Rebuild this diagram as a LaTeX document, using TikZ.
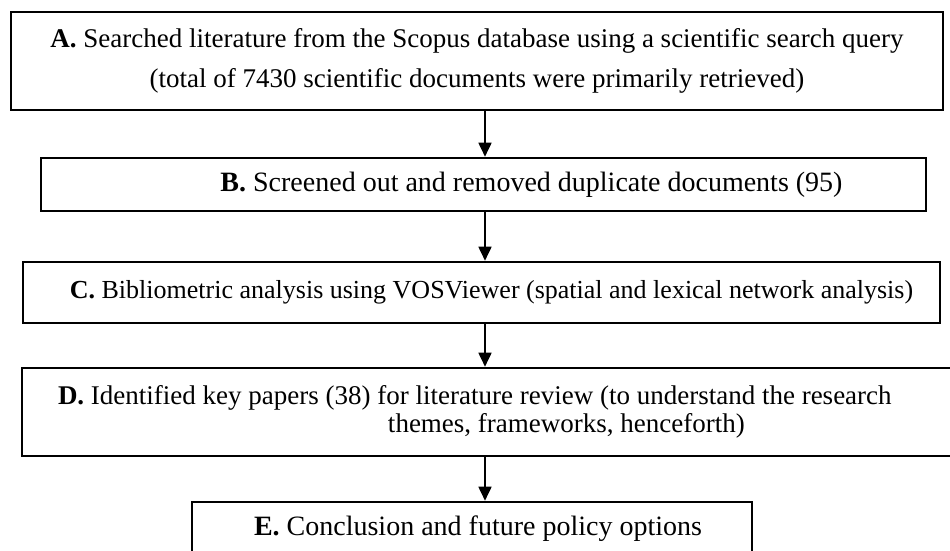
\documentclass[tikz,border=0pt]{standalone}
\usepackage{fontspec}
\setmainfont{Liberation Serif}
\usetikzlibrary{arrows.meta}

\begin{document}
\begin{tikzpicture}[x=0.5pt,y=0.5pt,
  bx/.style={draw, line width=1.3pt, fill=white, inner sep=0pt, font=\fontsize{13}{15}\selectfont},
  a/.style={-{Triangle[length=7pt,width=6.5pt]}, line width=0.9pt}]
\useasboundingbox (0,0) rectangle (950,551);
\node[bx, minimum width=466pt, minimum height=49pt, align=center,
  font=\fontsize{13.5}{20}\selectfont] (A) at (477,490)
  {\textbf{A.} Searched literature from the Scopus database using a scientific search query\\
   (total of 7430 scientific documents were primarily retrieved)};
\node[bx, minimum width=442.5pt, minimum height=26.5pt, font=\fontsize{14}{16}\selectfont] (B) at (483.5,366.5)
  {\hspace*{48pt}\textbf{B.} Screened out and removed duplicate documents (95)};
\node[bx, minimum width=458.5pt, minimum height=30.5pt] (C) at (481.5,258.5)
  {\hspace*{10pt}\textbf{C.} Bibliometric analysis using VOSViewer (spatial and lexical network analysis)};
\node[bx, minimum width=469pt, minimum height=44pt, text width=433pt, align=flush left,
  font=\fontsize{13.5}{14}\selectfont] (D) at (491,139)
  {\textbf{D.} Identified key papers (38) for literature review (to understand the research\\
   \hspace*{165pt}themes, frameworks, henceforth)};
\node[bx, minimum width=280pt, minimum height=26.5pt, font=\fontsize{14}{16}\selectfont] (E) at (472,22.5)
  {\hspace*{6pt}\textbf{E.} Conclusion and future policy options};
\coordinate (ax) at (485,0);
\foreach \u/\v in {A/B,B/C,C/D,D/E}
  \draw[a] (\u.south -| ax) -- (\v.north -| ax);
\end{tikzpicture}
\end{document}
